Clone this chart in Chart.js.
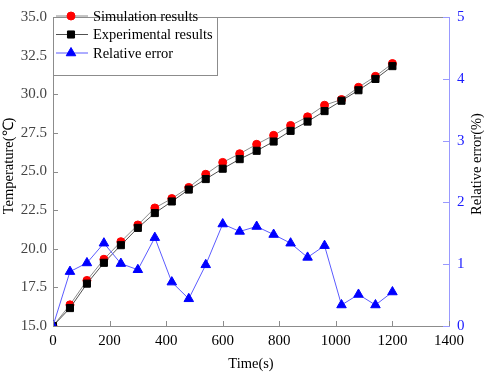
<!DOCTYPE html>
<html lang="en">
<head>
    <meta charset="UTF-8">
    <title>Temperature and relative error</title>
    <script src="https://cdn.jsdelivr.net/npm/chart.js"></script>
    <style>
        * { margin: 0; padding: 0; box-sizing: border-box; }
        body { background: #ffffff; }
        .wrap { width: 484px; height: 374px; }
    </style>
</head>
<body>
    <div class="wrap"><canvas id="chart" width="484" height="374"></canvas></div>
    <script>
        // data
        const times = [0, 60, 120, 180, 240, 300, 360, 420, 480, 540, 600, 660, 720, 780, 840, 900, 960, 1020, 1080, 1140, 1200];
        const simulation = [15.0, 16.37, 17.95, 19.32, 20.46, 21.54, 22.64, 23.25, 23.97, 24.82, 25.59, 26.15, 26.76, 27.34, 27.98, 28.54, 29.29, 29.66, 30.45, 31.16, 31.99];
        const experimental = [15.0, 16.16, 17.74, 19.09, 20.23, 21.35, 22.31, 23.06, 23.83, 24.51, 25.18, 25.80, 26.34, 26.94, 27.63, 28.23, 28.91, 29.58, 30.26, 30.99, 31.82];
        const relError = [0, 0.88, 1.02, 1.34, 1.01, 0.91, 1.43, 0.71, 0.44, 0.99, 1.65, 1.53, 1.61, 1.48, 1.34, 1.11, 1.30, 0.34, 0.51, 0.34, 0.55];

        const font = 'Liberation Serif';
        const blue = '#1a1aff';

        const toPoints = arr => arr.map((v, i) => ({ x: times[i], y: v }));

        const legendItems = [
            { label: 'Simulation results', line: '#8a8a8a', color: '#ff0000', style: 'circle', r: 4 },
            { label: 'Experimental results', line: '#505050', color: '#000000', style: 'rect', r: 5 },
            { label: 'Relative error', line: '#5b5bff', color: '#0000ff', style: 'triangle', r: 5.5 }
        ];

        // frame, inside ticks, axis titles and legend
        const decorations = {
            id: 'decorations',
            afterDraw(chart) {
                const ctx = chart.ctx;
                const a = chart.chartArea;
                const sx = chart.scales.x, sy = chart.scales.y, sr = chart.scales.y1;
                ctx.save();
                ctx.lineWidth = 1;

                // top border
                ctx.strokeStyle = '#8c8c8c';
                ctx.beginPath();
                ctx.moveTo(a.left, a.top + 0.5);
                ctx.lineTo(a.right, a.top + 0.5);
                ctx.stroke();

                // inside ticks
                ctx.beginPath();
                sx.ticks.forEach(t => {
                    const px = Math.round(sx.getPixelForValue(t.value)) + 0.5;
                    ctx.moveTo(px, a.bottom);
                    ctx.lineTo(px, a.bottom - 5);
                });
                sy.ticks.forEach(t => {
                    const py = Math.round(sy.getPixelForValue(t.value)) + 0.5;
                    ctx.moveTo(a.left, py);
                    ctx.lineTo(a.left + 5, py);
                });
                ctx.stroke();
                ctx.strokeStyle = '#9999ff';
                ctx.beginPath();
                sr.ticks.forEach(t => {
                    const py = Math.round(sr.getPixelForValue(t.value)) + 0.5;
                    ctx.moveTo(a.right, py);
                    ctx.lineTo(a.right - 6, py);
                });
                ctx.stroke();

                // axis titles
                ctx.font = '14.5px "' + font + '"';
                ctx.fillStyle = '#000000';
                ctx.textAlign = 'center';
                ctx.textBaseline = 'middle';
                ctx.fillText('Time(s)', (a.left + a.right) / 2, 364);
                ctx.save();
                ctx.translate(9, 166);
                ctx.rotate(-Math.PI / 2);
                ctx.fillText('Temperature(\u2103)', 0, 0);
                ctx.restore();
                ctx.save();
                ctx.translate(477, 164);
                ctx.rotate(-Math.PI / 2);
                ctx.fillText('Relative error(%)', 0, 0);
                ctx.restore();

                // legend box
                const lx = a.left, ly = a.top, lw = 164, lh = 58;
                ctx.fillStyle = '#ffffff';
                ctx.fillRect(lx, ly, lw, lh);
                ctx.strokeStyle = '#8c8c8c';
                ctx.strokeRect(lx + 0.5, ly + 0.5, lw, lh);
                ctx.textAlign = 'left';
                legendItems.forEach((it, i) => {
                    const cy = 16 + i * 18.5;
                    ctx.strokeStyle = it.line;
                    ctx.beginPath();
                    ctx.moveTo(lx + 3, cy);
                    ctx.lineTo(lx + 35, cy);
                    ctx.stroke();
                    ctx.fillStyle = it.color;
                    ctx.strokeStyle = it.color;
                    Chart.helpers.drawPoint(ctx, { pointStyle: it.style, radius: it.r, rotation: 0, borderWidth: 1 }, lx + 18, cy);
                    ctx.fillStyle = '#000000';
                    ctx.fillText(it.label, lx + 40, cy + 1);
                });
                ctx.restore();
            }
        };

        new Chart(document.getElementById('chart'), {
            type: 'line',
            data: {
                datasets: [
                    {
                        label: 'Simulation results',
                        data: toPoints(simulation),
                        yAxisID: 'y',
                        borderColor: '#8a8a8a',
                        borderWidth: 1,
                        pointStyle: 'circle',
                        pointRadius: 4,
                        pointBackgroundColor: '#ff0000',
                        pointBorderColor: '#ff0000',
                        clip: 0,
                        order: 3
                    },
                    {
                        label: 'Experimental results',
                        data: toPoints(experimental),
                        yAxisID: 'y',
                        borderColor: '#505050',
                        borderWidth: 1,
                        pointStyle: 'rect',
                        pointRadius: 5,
                        pointBackgroundColor: '#000000',
                        pointBorderColor: '#000000',
                        clip: 0,
                        order: 2
                    },
                    {
                        label: 'Relative error',
                        data: toPoints(relError),
                        yAxisID: 'y1',
                        borderColor: '#5b5bff',
                        borderWidth: 1,
                        pointStyle: 'triangle',
                        pointRadius: 5.5,
                        pointBackgroundColor: '#0000ff',
                        pointBorderColor: '#0000ff',
                        clip: 0,
                        order: 1
                    }
                ]
            },
            options: {
                responsive: false,
                animation: false,
                layout: { padding: { top: 5, left: 0, right: 0, bottom: 0 } },
                plugins: { legend: { display: false }, tooltip: { enabled: false } },
                scales: {
                    x: {
                        type: 'linear',
                        min: 0,
                        max: 1400,
                        ticks: {
                            stepSize: 200, padding: 6, color: '#000000', maxRotation: 0, autoSkip: false,
                            font: { family: font, size: 15 },
                            callback: v => String(v)
                        },
                        grid: { display: false, drawTicks: false },
                        border: { color: '#8c8c8c' },
                        afterFit: s => { s.height = 48; }
                    },
                    y: {
                        position: 'left',
                        min: 15,
                        max: 35,
                        ticks: {
                            stepSize: 2.5, padding: 6, color: '#444444', autoSkip: false,
                            font: { family: font, size: 15 },
                            callback: v => v.toFixed(1)
                        },
                        grid: { display: false, drawTicks: false },
                        border: { color: '#8c8c8c' },
                        afterFit: s => { s.width = 53; }
                    },
                    y1: {
                        position: 'right',
                        min: 0,
                        max: 5,
                        ticks: { stepSize: 1, padding: 8, color: blue, autoSkip: false, font: { family: font, size: 15 } },
                        grid: { display: false, drawTicks: false },
                        border: { color: '#9999ff' },
                        afterFit: s => { s.width = 35; }
                    }
                }
            },
            plugins: [decorations]
        });
    </script>
</body>
</html>
